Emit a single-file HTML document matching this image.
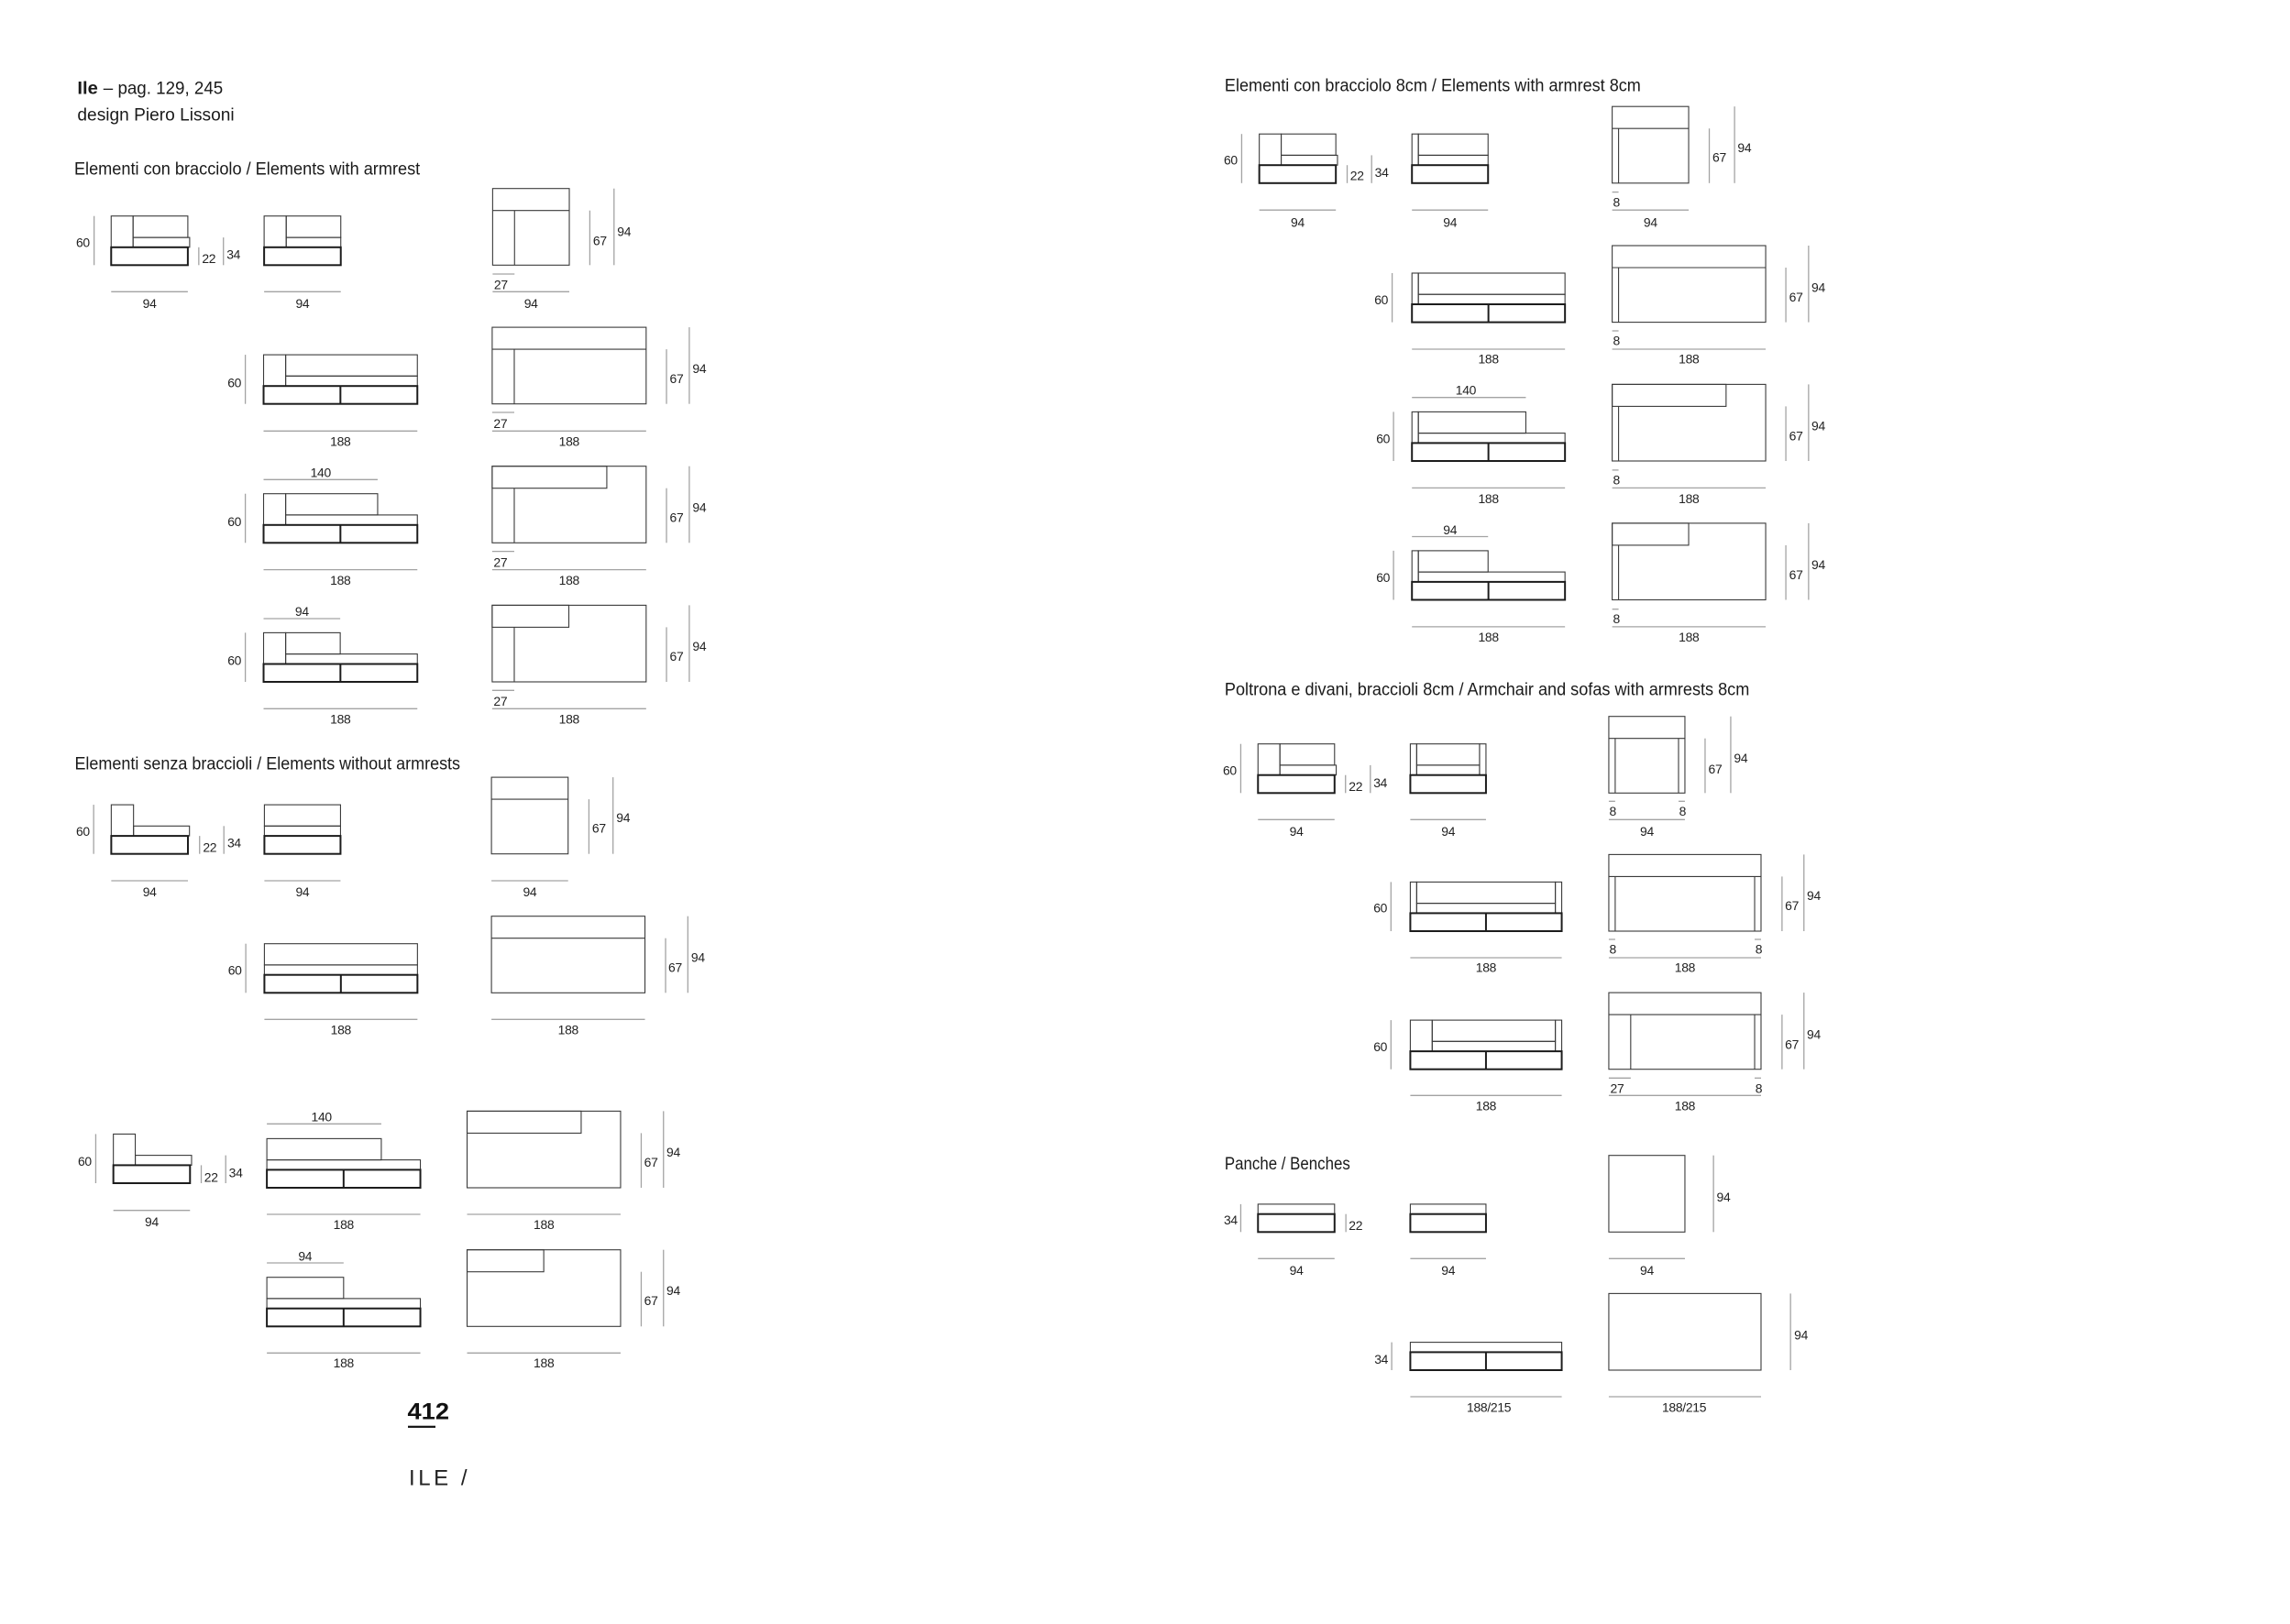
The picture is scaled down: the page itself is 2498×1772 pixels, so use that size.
<!DOCTYPE html>
<html>
<head>
<meta charset="utf-8">
<style>
html,body{margin:0;padding:0;background:#fff;}
body{width:2498px;height:1772px;overflow:hidden;position:relative;}
svg{position:absolute;left:0;top:0;}
.o{fill:none;stroke:#3a3a3a;stroke-width:1.1}
.b{fill:none;stroke:#1c1c1c;stroke-width:2}
.d{stroke:#a3a3a3;stroke-width:1.3}
.t{font-family:"Liberation Sans",sans-serif;font-size:14px;fill:#222;letter-spacing:-0.3px}
.m{text-anchor:middle}
.e{text-anchor:end}
.h{font-family:"Liberation Sans",sans-serif;font-size:19px;fill:#1a1a1a}
</style>
</head>
<body>
<svg width="2498" height="1772" viewBox="0 0 2498 1772" xmlns="http://www.w3.org/2000/svg">
<rect x="0" y="0" width="2498" height="1772" fill="#fff"/>

<!-- ================= LEFT PAGE ================= -->
<g transform="matrix(0.9955 0 0 1 0.315 0)">
<text class="h" x="84.5" y="102.5" font-weight="bold" textLength="22.5" lengthAdjust="spacingAndGlyphs">Ile</text>
<text class="h" x="113" y="102.5" textLength="131" lengthAdjust="spacingAndGlyphs">– pag. 129, 245</text>
<text class="h" x="84.5" y="131.5" textLength="172" lengthAdjust="spacingAndGlyphs">design Piero Lissoni</text>

<text class="h" x="81" y="190.7" textLength="379" lengthAdjust="spacingAndGlyphs">Elementi con bracciolo / Elements with armrest</text>

<!-- Row 1 -->
<rect class="o" x="121.5" y="235.7" width="24" height="34.1"/>
<rect class="o" x="145.5" y="235.7" width="60" height="23.4"/>
<rect class="o" x="145.5" y="259.1" width="62" height="10.7"/>
<rect class="b" x="121.5" y="269.8" width="84" height="19.5"/>
<line class="d" x1="102.8" y1="235.7" x2="102.8" y2="289.3"/>
<text class="t e" x="98" y="269.5">60</text>
<line class="d" x1="217.5" y1="269.8" x2="217.5" y2="289.3"/>
<text class="t" x="221" y="287">22</text>
<line class="d" x1="244.5" y1="259.1" x2="244.5" y2="289.3"/>
<text class="t" x="248" y="282.5">34</text>
<line class="d" x1="121.5" y1="318.3" x2="205.5" y2="318.3"/>
<text class="t m" x="163.5" y="336">94</text>

<rect class="o" x="289.1" y="235.7" width="24.2" height="34.1"/>
<rect class="o" x="313.3" y="235.7" width="59.8" height="23.4"/>
<rect class="o" x="313.3" y="259.1" width="59.8" height="10.7"/>
<rect class="b" x="289.1" y="269.8" width="84" height="19.5"/>
<line class="d" x1="289.1" y1="318.3" x2="373.1" y2="318.3"/>
<text class="t m" x="331.1" y="336">94</text>

<rect class="o" x="539.5" y="205.7" width="84" height="83.6"/>
<line class="o" x1="539.5" y1="229.7" x2="623.5" y2="229.7"/>
<line class="o" x1="563.5" y1="229.7" x2="563.5" y2="289.3"/>
<line class="d" x1="646" y1="229.7" x2="646" y2="289.3"/>
<text class="t" x="649.5" y="267.5">67</text>
<line class="d" x1="672.5" y1="205.7" x2="672.5" y2="289.3"/>
<text class="t" x="676" y="257.5">94</text>
<line class="d" x1="539.5" y1="299" x2="563.5" y2="299"/>
<text class="t" x="541" y="315.5">27</text>
<line class="d" x1="539.5" y1="318.3" x2="623.5" y2="318.3"/>
<text class="t m" x="581.5" y="336">94</text>

<!-- Row 2 -->
<rect class="o" x="288.5" y="387.1" width="24.2" height="34.1"/>
<rect class="o" x="312.7" y="387.1" width="144.3" height="23.2"/>
<rect class="o" x="312.7" y="410.3" width="144.3" height="10.9"/>
<rect class="b" x="288.5" y="421.2" width="168.5" height="19.5"/>
<line class="b" x1="372.7" y1="421.2" x2="372.7" y2="440.7"/>
<line class="d" x1="268.5" y1="387.1" x2="268.5" y2="440.7"/>
<text class="t e" x="264" y="422.5">60</text>
<line class="d" x1="288.5" y1="470.3" x2="457" y2="470.3"/>
<text class="t m" x="372.7" y="486.5">188</text>

<rect class="o" x="539" y="357.1" width="168.7" height="83.6"/>
<line class="o" x1="539" y1="381.1" x2="707.7" y2="381.1"/>
<line class="o" x1="563.2" y1="381.1" x2="563.2" y2="440.7"/>
<line class="d" x1="730" y1="381.1" x2="730" y2="440.7"/>
<text class="t" x="733.5" y="418">67</text>
<line class="d" x1="755" y1="357.1" x2="755" y2="440.7"/>
<text class="t" x="758.5" y="407">94</text>
<line class="d" x1="539" y1="450" x2="563.2" y2="450"/>
<text class="t" x="540.5" y="467">27</text>
<line class="d" x1="539" y1="470.3" x2="707.7" y2="470.3"/>
<text class="t m" x="623.3" y="486.5">188</text>

<!-- Row 3 -->
<line class="d" x1="288.5" y1="523.3" x2="413.5" y2="523.3"/>
<text class="t m" x="351" y="520.3">140</text>
<rect class="o" x="288.5" y="538.7" width="24.2" height="34.1"/>
<rect class="o" x="312.7" y="538.7" width="100.8" height="23.2"/>
<rect class="o" x="312.7" y="561.9" width="144.3" height="10.9"/>
<rect class="b" x="288.5" y="572.8" width="168.5" height="19.5"/>
<line class="b" x1="372.7" y1="572.8" x2="372.7" y2="592.3"/>
<line class="d" x1="268.5" y1="538.7" x2="268.5" y2="592.3"/>
<text class="t e" x="264" y="574">60</text>
<line class="d" x1="288.5" y1="621.6" x2="457" y2="621.6"/>
<text class="t m" x="372.7" y="638">188</text>

<rect class="o" x="539" y="508.7" width="168.7" height="83.6"/>
<rect class="o" x="539" y="508.7" width="125.6" height="24"/>
<line class="o" x1="563.2" y1="532.7" x2="563.2" y2="592.3"/>
<line class="d" x1="730" y1="532.7" x2="730" y2="592.3"/>
<text class="t" x="733.5" y="569.5">67</text>
<line class="d" x1="755" y1="508.7" x2="755" y2="592.3"/>
<text class="t" x="758.5" y="558.5">94</text>
<line class="d" x1="539" y1="601.6" x2="563.2" y2="601.6"/>
<text class="t" x="540.5" y="618.5">27</text>
<line class="d" x1="539" y1="621.6" x2="707.7" y2="621.6"/>
<text class="t m" x="623.3" y="638">188</text>

<!-- Row 4 -->
<line class="d" x1="288.5" y1="675" x2="372.5" y2="675"/>
<text class="t m" x="330.5" y="672">94</text>
<rect class="o" x="288.5" y="690.4" width="24.2" height="34.1"/>
<rect class="o" x="312.7" y="690.4" width="59.8" height="23.2"/>
<rect class="o" x="312.7" y="713.6" width="144.3" height="10.9"/>
<rect class="b" x="288.5" y="724.5" width="168.5" height="19.5"/>
<line class="b" x1="372.7" y1="724.5" x2="372.7" y2="744"/>
<line class="d" x1="268.5" y1="690.4" x2="268.5" y2="744"/>
<text class="t e" x="264" y="725.5">60</text>
<line class="d" x1="288.5" y1="773.3" x2="457" y2="773.3"/>
<text class="t m" x="372.7" y="789.5">188</text>

<rect class="o" x="539" y="660.4" width="168.7" height="83.6"/>
<rect class="o" x="539" y="660.4" width="84" height="24"/>
<line class="o" x1="563.2" y1="684.4" x2="563.2" y2="744"/>
<line class="d" x1="730" y1="684.4" x2="730" y2="744"/>
<text class="t" x="733.5" y="721">67</text>
<line class="d" x1="755" y1="660.4" x2="755" y2="744"/>
<text class="t" x="758.5" y="710">94</text>
<line class="d" x1="539" y1="753.3" x2="563.2" y2="753.3"/>
<text class="t" x="540.5" y="770">27</text>
<line class="d" x1="539" y1="773.3" x2="707.7" y2="773.3"/>
<text class="t m" x="623.3" y="789.5">188</text>

<!-- Section 2 -->
<text class="h" x="81.5" y="839.3" textLength="422.5" lengthAdjust="spacingAndGlyphs">Elementi senza braccioli / Elements without armrests</text>

<rect class="o" x="121.6" y="878.1" width="24.4" height="34"/>
<rect class="o" x="146" y="901.3" width="61.3" height="10.8"/>
<rect class="b" x="121.6" y="912.1" width="84" height="19.6"/>
<line class="d" x1="102.3" y1="878.1" x2="102.3" y2="931.7"/>
<text class="t e" x="98" y="912">60</text>
<line class="d" x1="218.4" y1="912.1" x2="218.4" y2="931.7"/>
<text class="t" x="222" y="929.5">22</text>
<line class="d" x1="245" y1="901.3" x2="245" y2="931.7"/>
<text class="t" x="248.8" y="924.5">34</text>
<line class="d" x1="121.6" y1="961" x2="205.6" y2="961"/>
<text class="t m" x="163.6" y="978">94</text>

<rect class="o" x="289.4" y="878.1" width="83.4" height="23.2"/>
<rect class="o" x="289.4" y="901.3" width="83.4" height="10.8"/>
<rect class="b" x="289.4" y="912.1" width="83.4" height="19.6"/>
<line class="d" x1="289.4" y1="961" x2="372.8" y2="961"/>
<text class="t m" x="331.1" y="978">94</text>

<rect class="o" x="538.2" y="848.1" width="84" height="83.6"/>
<line class="o" x1="538.2" y1="872.1" x2="622.2" y2="872.1"/>
<line class="d" x1="645" y1="872.1" x2="645" y2="931.7"/>
<text class="t" x="648.5" y="908.5">67</text>
<line class="d" x1="671.4" y1="848.1" x2="671.4" y2="931.7"/>
<text class="t" x="675" y="897">94</text>
<line class="d" x1="538.2" y1="961" x2="622.2" y2="961"/>
<text class="t m" x="580.2" y="978">94</text>

<rect class="o" x="289.4" y="1029.7" width="167.7" height="23.2"/>
<rect class="o" x="289.4" y="1052.9" width="167.7" height="10.8"/>
<rect class="b" x="289.4" y="1063.7" width="167.7" height="19.6"/>
<line class="b" x1="373.2" y1="1063.7" x2="373.2" y2="1083.3"/>
<line class="d" x1="269" y1="1029.7" x2="269" y2="1083.3"/>
<text class="t e" x="264.5" y="1063.5">60</text>
<line class="d" x1="289.4" y1="1112.3" x2="457.1" y2="1112.3"/>
<text class="t m" x="373.2" y="1128.5">188</text>

<rect class="o" x="538.2" y="999.7" width="168.2" height="83.6"/>
<line class="o" x1="538.2" y1="1023.7" x2="706.4" y2="1023.7"/>
<line class="d" x1="729" y1="1023.7" x2="729" y2="1083.3"/>
<text class="t" x="732" y="1060.5">67</text>
<line class="d" x1="753.4" y1="999.7" x2="753.4" y2="1083.3"/>
<text class="t" x="757" y="1049.5">94</text>
<line class="d" x1="538.2" y1="1112.3" x2="706.4" y2="1112.3"/>
<text class="t m" x="622.3" y="1128.5">188</text>

<!-- Section 3 -->
<rect class="o" x="123.9" y="1237.4" width="24" height="34"/>
<rect class="o" x="147.9" y="1260.6" width="61.7" height="10.8"/>
<rect class="b" x="123.9" y="1271.4" width="84" height="19.6"/>
<line class="d" x1="104.6" y1="1237.4" x2="104.6" y2="1291"/>
<text class="t e" x="100" y="1272">60</text>
<line class="d" x1="220.2" y1="1271.4" x2="220.2" y2="1291"/>
<text class="t" x="223.5" y="1289.5">22</text>
<line class="d" x1="247" y1="1260.6" x2="247" y2="1291"/>
<text class="t" x="250.5" y="1284.5">34</text>
<line class="d" x1="123.9" y1="1320.7" x2="207.9" y2="1320.7"/>
<text class="t m" x="165.9" y="1338">94</text>

<line class="d" x1="292.1" y1="1226.3" x2="417.5" y2="1226.3"/>
<text class="t m" x="352" y="1223.5">140</text>
<rect class="o" x="292.1" y="1242.4" width="125.4" height="23.2"/>
<rect class="o" x="292.1" y="1265.6" width="168.2" height="10.8"/>
<rect class="b" x="292.1" y="1276.4" width="168.2" height="19.6"/>
<line class="b" x1="376.2" y1="1276.4" x2="376.2" y2="1296"/>
<line class="d" x1="292.1" y1="1325" x2="460.3" y2="1325"/>
<text class="t m" x="376.2" y="1341">188</text>

<rect class="o" x="511.5" y="1212.4" width="168.2" height="83.6"/>
<rect class="o" x="511.5" y="1212.4" width="125" height="24"/>
<line class="d" x1="702.3" y1="1236.4" x2="702.3" y2="1296"/>
<text class="t" x="705.5" y="1273">67</text>
<line class="d" x1="726.7" y1="1212.4" x2="726.7" y2="1296"/>
<text class="t" x="730" y="1262">94</text>
<line class="d" x1="511.5" y1="1325" x2="679.7" y2="1325"/>
<text class="t m" x="595.6" y="1341">188</text>

<line class="d" x1="292.1" y1="1378" x2="376.2" y2="1378"/>
<text class="t m" x="334" y="1375.5">94</text>
<rect class="o" x="292.1" y="1393.7" width="84.1" height="23.2"/>
<rect class="o" x="292.1" y="1416.9" width="168.2" height="10.8"/>
<rect class="b" x="292.1" y="1427.7" width="168.2" height="19.6"/>
<line class="b" x1="376.2" y1="1427.7" x2="376.2" y2="1447.3"/>
<line class="d" x1="292.1" y1="1476.3" x2="460.3" y2="1476.3"/>
<text class="t m" x="376.2" y="1492">188</text>

<rect class="o" x="511.5" y="1363.7" width="168.2" height="83.6"/>
<rect class="o" x="511.5" y="1363.7" width="84" height="24"/>
<line class="d" x1="702.3" y1="1387.7" x2="702.3" y2="1447.3"/>
<text class="t" x="705.5" y="1424">67</text>
<line class="d" x1="726.7" y1="1363.7" x2="726.7" y2="1447.3"/>
<text class="t" x="730" y="1413">94</text>
<line class="d" x1="511.5" y1="1476.3" x2="679.7" y2="1476.3"/>
<text class="t m" x="595.6" y="1492">188</text>
</g>

<!-- page number -->
<text x="444.5" y="1548.3" font-family="'Liberation Sans',sans-serif" font-size="25" font-weight="bold" fill="#111" textLength="45.5" lengthAdjust="spacingAndGlyphs">412</text>
<rect x="445" y="1555.7" width="30" height="2.2" fill="#111"/>
<text x="446" y="1620.7" font-family="'Liberation Sans',sans-serif" font-size="24" fill="#222" textLength="63.5" lengthAdjust="spacing">ILE /</text>

<!-- ================= RIGHT PAGE ================= -->
<g transform="matrix(0.9955 0 0 1 5.94 0)">
<text class="h" x="1336" y="99.4" textLength="456" lengthAdjust="spacingAndGlyphs">Elementi con bracciolo 8cm / Elements with armrest 8cm</text>

<!-- R1 -->
<rect class="o" x="1373.9" y="146.2" width="24" height="34"/>
<rect class="o" x="1397.9" y="146.2" width="59.9" height="23.2"/>
<rect class="o" x="1397.9" y="169.4" width="61.7" height="10.8"/>
<rect class="b" x="1373.9" y="180.2" width="83.9" height="19.6"/>
<line class="d" x1="1354.6" y1="146.2" x2="1354.6" y2="199.8"/>
<text class="t e" x="1350" y="179.5">60</text>
<line class="d" x1="1470.2" y1="180.2" x2="1470.2" y2="199.8"/>
<text class="t" x="1473.5" y="196.7">22</text>
<line class="d" x1="1497" y1="169.4" x2="1497" y2="199.8"/>
<text class="t" x="1500.5" y="193">34</text>
<line class="d" x1="1373.9" y1="229.2" x2="1457.8" y2="229.2"/>
<text class="t m" x="1415.9" y="247.5">94</text>

<rect class="o" x="1541.2" y="146.2" width="7" height="34"/>
<rect class="o" x="1548.2" y="146.2" width="76.4" height="23.2"/>
<rect class="o" x="1548.2" y="169.4" width="76.4" height="10.8"/>
<rect class="b" x="1541.2" y="180.2" width="83.4" height="19.6"/>
<line class="d" x1="1541.2" y1="229.2" x2="1624.6" y2="229.2"/>
<text class="t m" x="1582.9" y="247.5">94</text>

<rect class="o" x="1760.6" y="116.2" width="83.8" height="83.6"/>
<line class="o" x1="1760.6" y1="140.2" x2="1844.4" y2="140.2"/>
<line class="o" x1="1767.6" y1="140.2" x2="1767.6" y2="199.8"/>
<line class="d" x1="1867" y1="140.2" x2="1867" y2="199.8"/>
<text class="t" x="1870.5" y="176.7">67</text>
<line class="d" x1="1894.7" y1="116.2" x2="1894.7" y2="199.8"/>
<text class="t" x="1898" y="166">94</text>
<line class="d" x1="1760.6" y1="209.6" x2="1767.6" y2="209.6"/>
<text class="t" x="1761.5" y="225.3">8</text>
<line class="d" x1="1760.6" y1="229.2" x2="1844.4" y2="229.2"/>
<text class="t m" x="1802.5" y="247.5">94</text>

<!-- R2 -->
<rect class="o" x="1541.2" y="298" width="7" height="34"/>
<rect class="o" x="1548.2" y="298" width="160.7" height="23.2"/>
<rect class="o" x="1548.2" y="321.2" width="160.7" height="10.8"/>
<rect class="b" x="1541.2" y="332" width="167.7" height="19.6"/>
<line class="b" x1="1625" y1="332" x2="1625" y2="351.6"/>
<line class="d" x1="1519.5" y1="298" x2="1519.5" y2="351.6"/>
<text class="t e" x="1515" y="331.8">60</text>
<line class="d" x1="1541.2" y1="381" x2="1708.9" y2="381"/>
<text class="t m" x="1625" y="396.7">188</text>

<rect class="o" x="1760.6" y="268" width="168.2" height="83.6"/>
<line class="o" x1="1760.6" y1="292" x2="1928.8" y2="292"/>
<line class="o" x1="1767.6" y1="292" x2="1767.6" y2="351.6"/>
<line class="d" x1="1950.9" y1="292" x2="1950.9" y2="351.6"/>
<text class="t" x="1954.5" y="329">67</text>
<line class="d" x1="1975.8" y1="268" x2="1975.8" y2="351.6"/>
<text class="t" x="1979" y="318.4">94</text>
<line class="d" x1="1760.6" y1="361" x2="1767.6" y2="361"/>
<text class="t" x="1761.5" y="376.7">8</text>
<line class="d" x1="1760.6" y1="381" x2="1928.8" y2="381"/>
<text class="t m" x="1844.7" y="396.7">188</text>

<!-- R3 -->
<line class="d" x1="1541.2" y1="433.7" x2="1666" y2="433.7"/>
<text class="t m" x="1600.2" y="430.5">140</text>
<rect class="o" x="1541.2" y="449.4" width="7" height="34"/>
<rect class="o" x="1548.2" y="449.4" width="117.8" height="23.2"/>
<rect class="o" x="1548.2" y="472.6" width="160.7" height="10.8"/>
<rect class="b" x="1541.2" y="483.4" width="167.7" height="19.6"/>
<line class="b" x1="1625" y1="483.4" x2="1625" y2="503"/>
<line class="d" x1="1521" y1="449.4" x2="1521" y2="503"/>
<text class="t e" x="1517" y="483.7">60</text>
<line class="d" x1="1541.2" y1="532.4" x2="1708.9" y2="532.4"/>
<text class="t m" x="1625" y="549">188</text>

<rect class="o" x="1760.6" y="419.4" width="168.2" height="83.6"/>
<rect class="o" x="1760.6" y="419.4" width="124.8" height="24"/>
<line class="o" x1="1767.6" y1="443.4" x2="1767.6" y2="503"/>
<line class="d" x1="1950.9" y1="443.4" x2="1950.9" y2="503"/>
<text class="t" x="1954.5" y="480.5">67</text>
<line class="d" x1="1975.8" y1="419.4" x2="1975.8" y2="503"/>
<text class="t" x="1979" y="469.5">94</text>
<line class="d" x1="1760.6" y1="512.9" x2="1767.6" y2="512.9"/>
<text class="t" x="1761.5" y="528.5">8</text>
<line class="d" x1="1760.6" y1="532.4" x2="1928.8" y2="532.4"/>
<text class="t m" x="1844.7" y="549">188</text>

<!-- R4 -->
<line class="d" x1="1541.2" y1="585.5" x2="1624.6" y2="585.5"/>
<text class="t m" x="1582.9" y="583">94</text>
<rect class="o" x="1541.2" y="600.9" width="7" height="34"/>
<rect class="o" x="1548.2" y="600.9" width="76.4" height="23.2"/>
<rect class="o" x="1548.2" y="624.1" width="160.7" height="10.8"/>
<rect class="b" x="1541.2" y="634.9" width="167.7" height="19.6"/>
<line class="b" x1="1625" y1="634.9" x2="1625" y2="654.5"/>
<line class="d" x1="1521" y1="600.9" x2="1521" y2="654.5"/>
<text class="t e" x="1517" y="635">60</text>
<line class="d" x1="1541.2" y1="683.9" x2="1708.9" y2="683.9"/>
<text class="t m" x="1625" y="700">188</text>

<rect class="o" x="1760.6" y="570.9" width="168.2" height="83.6"/>
<rect class="o" x="1760.6" y="570.9" width="83.8" height="24"/>
<line class="o" x1="1767.6" y1="594.9" x2="1767.6" y2="654.5"/>
<line class="d" x1="1950.9" y1="594.9" x2="1950.9" y2="654.5"/>
<text class="t" x="1954.5" y="632">67</text>
<line class="d" x1="1975.8" y1="570.9" x2="1975.8" y2="654.5"/>
<text class="t" x="1979" y="621">94</text>
<line class="d" x1="1760.6" y1="664.7" x2="1767.6" y2="664.7"/>
<text class="t" x="1761.5" y="680">8</text>
<line class="d" x1="1760.6" y1="683.9" x2="1928.8" y2="683.9"/>
<text class="t m" x="1844.7" y="700">188</text>

<!-- Section P -->
<text class="h" x="1336" y="758.3" textLength="575" lengthAdjust="spacingAndGlyphs">Poltrona e divani, braccioli 8cm / Armchair and sofas with armrests 8cm</text>

<rect class="o" x="1372.5" y="811.7" width="24" height="34"/>
<rect class="o" x="1396.5" y="811.7" width="59.9" height="23.2"/>
<rect class="o" x="1396.5" y="834.9" width="61.7" height="10.8"/>
<rect class="b" x="1372.5" y="845.7" width="83.9" height="19.6"/>
<line class="d" x1="1353.6" y1="811.7" x2="1353.6" y2="865.3"/>
<text class="t e" x="1349" y="845.5">60</text>
<line class="d" x1="1468.4" y1="845.7" x2="1468.4" y2="865.3"/>
<text class="t" x="1472" y="862.8">22</text>
<line class="d" x1="1495.6" y1="834.9" x2="1495.6" y2="865.3"/>
<text class="t" x="1499" y="858.8">34</text>
<line class="d" x1="1372.5" y1="894.3" x2="1456.4" y2="894.3"/>
<text class="t m" x="1414.5" y="912">94</text>

<rect class="o" x="1539.4" y="811.7" width="7" height="34"/>
<rect class="o" x="1615.3" y="811.7" width="7" height="34"/>
<rect class="o" x="1546.4" y="811.7" width="68.9" height="23.2"/>
<rect class="o" x="1546.4" y="834.9" width="68.9" height="10.8"/>
<rect class="b" x="1539.4" y="845.7" width="82.9" height="19.6"/>
<line class="d" x1="1539.4" y1="894.3" x2="1622.3" y2="894.3"/>
<text class="t m" x="1580.9" y="912">94</text>

<rect class="o" x="1756.9" y="781.7" width="83.4" height="83.6"/>
<line class="o" x1="1756.9" y1="805.7" x2="1840.3" y2="805.7"/>
<line class="o" x1="1763.9" y1="805.7" x2="1763.9" y2="865.3"/>
<line class="o" x1="1833.3" y1="805.7" x2="1833.3" y2="865.3"/>
<line class="d" x1="1862.4" y1="805.7" x2="1862.4" y2="865.3"/>
<text class="t" x="1866" y="843.8">67</text>
<line class="d" x1="1890.5" y1="781.7" x2="1890.5" y2="865.3"/>
<text class="t" x="1894" y="832.2">94</text>
<line class="d" x1="1756.9" y1="874.3" x2="1763.9" y2="874.3"/>
<line class="d" x1="1833.3" y1="874.3" x2="1840.3" y2="874.3"/>
<text class="t" x="1757.5" y="889.8">8</text>
<text class="t" x="1834" y="889.8">8</text>
<line class="d" x1="1756.9" y1="894.3" x2="1840.3" y2="894.3"/>
<text class="t m" x="1798.6" y="912">94</text>

<!-- P2 -->
<rect class="o" x="1539.4" y="962.4" width="7" height="34"/>
<rect class="o" x="1698.3" y="962.4" width="7" height="34"/>
<rect class="o" x="1546.4" y="962.4" width="151.9" height="23.2"/>
<rect class="o" x="1546.4" y="985.6" width="151.9" height="10.8"/>
<rect class="b" x="1539.4" y="996.4" width="165.9" height="19.6"/>
<line class="b" x1="1622.3" y1="996.4" x2="1622.3" y2="1016"/>
<line class="d" x1="1518.2" y1="962.4" x2="1518.2" y2="1016"/>
<text class="t e" x="1514" y="995.5">60</text>
<line class="d" x1="1539.4" y1="1045" x2="1705.3" y2="1045"/>
<text class="t m" x="1622.3" y="1060.5">188</text>

<rect class="o" x="1756.9" y="932.4" width="166.8" height="83.6"/>
<line class="o" x1="1756.9" y1="956.4" x2="1923.7" y2="956.4"/>
<line class="o" x1="1763.9" y1="956.4" x2="1763.9" y2="1016"/>
<line class="o" x1="1916.7" y1="956.4" x2="1916.7" y2="1016"/>
<line class="d" x1="1946.7" y1="956.4" x2="1946.7" y2="1016"/>
<text class="t" x="1950" y="993.2">67</text>
<line class="d" x1="1970.7" y1="932.4" x2="1970.7" y2="1016"/>
<text class="t" x="1974" y="982.2">94</text>
<line class="d" x1="1756.9" y1="1025" x2="1763.9" y2="1025"/>
<line class="d" x1="1916.7" y1="1025" x2="1923.7" y2="1025"/>
<text class="t" x="1757.5" y="1040.5">8</text>
<text class="t" x="1917.5" y="1040.5">8</text>
<line class="d" x1="1756.9" y1="1045" x2="1923.7" y2="1045"/>
<text class="t m" x="1840.3" y="1060.5">188</text>

<!-- P3 -->
<rect class="o" x="1539.4" y="1113.1" width="24" height="34"/>
<rect class="o" x="1698.3" y="1113.1" width="7" height="34"/>
<rect class="o" x="1563.4" y="1113.1" width="134.9" height="23.2"/>
<rect class="o" x="1563.4" y="1136.3" width="134.9" height="10.8"/>
<rect class="b" x="1539.4" y="1147.1" width="165.9" height="19.6"/>
<line class="b" x1="1622.3" y1="1147.1" x2="1622.3" y2="1166.7"/>
<line class="d" x1="1518.2" y1="1113.1" x2="1518.2" y2="1166.7"/>
<text class="t e" x="1514" y="1147">60</text>
<line class="d" x1="1539.4" y1="1195.3" x2="1705.3" y2="1195.3"/>
<text class="t m" x="1622.3" y="1211.5">188</text>

<rect class="o" x="1756.9" y="1083.1" width="166.8" height="83.6"/>
<line class="o" x1="1756.9" y1="1107.1" x2="1923.7" y2="1107.1"/>
<line class="o" x1="1780.9" y1="1107.1" x2="1780.9" y2="1166.7"/>
<line class="o" x1="1916.7" y1="1107.1" x2="1916.7" y2="1166.7"/>
<line class="d" x1="1946.7" y1="1107.1" x2="1946.7" y2="1166.7"/>
<text class="t" x="1950" y="1144.5">67</text>
<line class="d" x1="1970.7" y1="1083.1" x2="1970.7" y2="1166.7"/>
<text class="t" x="1974" y="1133.5">94</text>
<line class="d" x1="1756.9" y1="1176.3" x2="1780.9" y2="1176.3"/>
<line class="d" x1="1916.7" y1="1176.3" x2="1923.7" y2="1176.3"/>
<text class="t" x="1758.5" y="1192.5">27</text>
<text class="t" x="1917.5" y="1192.5">8</text>
<line class="d" x1="1756.9" y1="1195.3" x2="1923.7" y2="1195.3"/>
<text class="t m" x="1840.3" y="1211.5">188</text>

<!-- Section Q -->
<text class="h" x="1336" y="1276" textLength="137.5" lengthAdjust="spacingAndGlyphs">Panche / Benches</text>

<rect class="o" x="1372.5" y="1313.9" width="83.9" height="10.8"/>
<rect class="b" x="1372.5" y="1324.7" width="83.9" height="19.6"/>
<line class="d" x1="1353.6" y1="1313.9" x2="1353.6" y2="1344.3"/>
<text class="t e" x="1350" y="1336.2">34</text>
<line class="d" x1="1468.8" y1="1324.7" x2="1468.8" y2="1344.3"/>
<text class="t" x="1472" y="1342.2">22</text>
<line class="d" x1="1372.5" y1="1373.3" x2="1456.4" y2="1373.3"/>
<text class="t m" x="1414.5" y="1391">94</text>

<rect class="o" x="1539.4" y="1313.9" width="82.9" height="10.8"/>
<rect class="b" x="1539.4" y="1324.7" width="82.9" height="19.6"/>
<line class="d" x1="1539.4" y1="1373.3" x2="1622.3" y2="1373.3"/>
<text class="t m" x="1580.9" y="1391">94</text>

<rect class="o" x="1756.9" y="1260.7" width="83.4" height="83.6"/>
<line class="d" x1="1871.6" y1="1260.7" x2="1871.6" y2="1344.3"/>
<text class="t" x="1875" y="1311.2">94</text>
<line class="d" x1="1756.9" y1="1373.3" x2="1840.3" y2="1373.3"/>
<text class="t m" x="1798.6" y="1391">94</text>

<rect class="o" x="1539.4" y="1464.6" width="165.9" height="10.8"/>
<rect class="b" x="1539.4" y="1475.4" width="165.9" height="19.6"/>
<line class="b" x1="1622.3" y1="1475.4" x2="1622.3" y2="1495"/>
<line class="d" x1="1519" y1="1464.6" x2="1519" y2="1495"/>
<text class="t e" x="1515" y="1488.2">34</text>
<line class="d" x1="1539.4" y1="1524" x2="1705.3" y2="1524"/>
<text class="t m" x="1625.5" y="1540.5">188/215</text>

<rect class="o" x="1756.9" y="1411.4" width="166.8" height="83.6"/>
<line class="d" x1="1956" y1="1411.4" x2="1956" y2="1495"/>
<text class="t" x="1960" y="1461.5">94</text>
<line class="d" x1="1756.9" y1="1524" x2="1923.7" y2="1524"/>
<text class="t m" x="1839.4" y="1540.5">188/215</text>
</g>
</svg>
</body>
</html>
